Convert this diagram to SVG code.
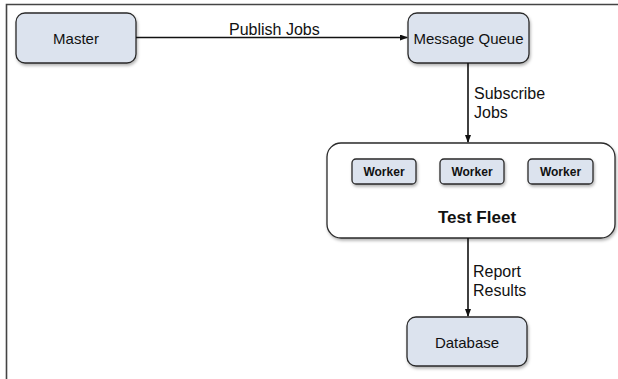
<svg xmlns="http://www.w3.org/2000/svg" width="618" height="379" viewBox="0 0 618 379">
<defs>
<filter id="sh" x="-10%" y="-10%" width="130%" height="140%">
<feDropShadow dx="1" dy="2" stdDeviation="1.5" flood-color="#000" flood-opacity="0.3"/>
</filter>
<marker id="arr" markerWidth="8" markerHeight="6" refX="7" refY="3" orient="auto" markerUnits="userSpaceOnUse">
<path d="M0,0 L8,3 L0,6 z" fill="#111"/>
</marker>
</defs>
<style>
.node{fill:#dce3ee;stroke:#2a2a2a;stroke-width:1.3;filter:url(#sh)}
.fleet{fill:#fff;stroke:#2a2a2a;stroke-width:1.3;filter:url(#sh)}
.nt{font-family:"Liberation Sans",Arial,sans-serif;font-size:15px;fill:#111;text-anchor:middle}
.wt{font-family:"Liberation Sans",Arial,sans-serif;font-size:12px;font-weight:bold;fill:#111;text-anchor:middle}
.lbl{font-family:"Liberation Sans",Arial,sans-serif;font-size:16px;fill:#111}
.edge{stroke:#111;stroke-width:1.6;fill:none;marker-end:url(#arr)}
</style>
<rect x="0" y="0" width="618" height="379" fill="#fff"/>
<path d="M6.5,379 V4.5 H618" fill="none" stroke="#444" stroke-width="1.6"/>
<g id="master">
<rect class="node" x="16" y="13" width="120" height="50" rx="9"/>
<text class="nt" x="76" y="43.5">Master</text>
</g>
<g id="queue">
<rect class="node" x="408" y="13" width="121" height="50" rx="9"/>
<text class="nt" x="468.5" y="43.5">Message Queue</text>
</g>
<g id="fleet">
<rect class="fleet" x="327" y="143" width="288" height="95" rx="14"/>
<text x="477" y="223" font-family="Liberation Sans,Arial,sans-serif" font-size="17" font-weight="bold" fill="#111" text-anchor="middle">Test Fleet</text>
</g>
<g id="worker1">
<rect class="node" x="352" y="159" width="64" height="25" rx="4"/>
<text class="wt" x="384" y="176">Worker</text>
</g>
<g id="worker2">
<rect class="node" x="440" y="159" width="64" height="25" rx="4"/>
<text class="wt" x="472" y="176">Worker</text>
</g>
<g id="worker3">
<rect class="node" x="528" y="159" width="65" height="25" rx="4"/>
<text class="wt" x="560.5" y="176">Worker</text>
</g>
<g id="database">
<rect class="node" x="407" y="317" width="120" height="49" rx="9"/>
<text class="nt" x="467" y="347.5">Database</text>
</g>
<g id="connectors">
<line class="edge" x1="136" y1="37.5" x2="407" y2="37.5"/>
<text class="lbl" x="229" y="35">Publish Jobs</text>
<line class="edge" x1="468" y1="63" x2="468" y2="142"/>
<text class="lbl" x="474" y="99">Subscribe</text>
<text class="lbl" x="474" y="118">Jobs</text>
<line class="edge" x1="468" y1="238" x2="468" y2="316"/>
<text class="lbl" x="473" y="277">Report</text>
<text class="lbl" x="473" y="296">Results</text>
</g>
</svg>
